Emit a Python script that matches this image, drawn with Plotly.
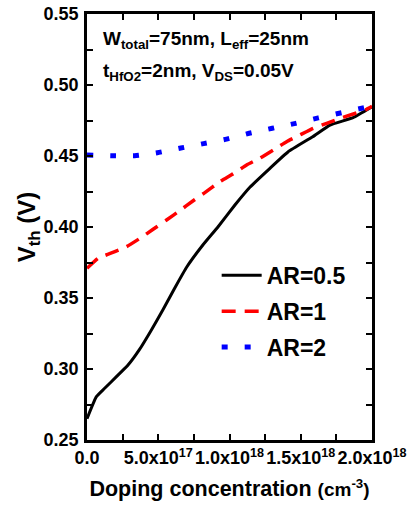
import plotly.graph_objects as go

# Threshold voltage vs. channel doping for three aspect ratios
doping_ar05 = [0, 6.6e16, 1.24e17, 2.065e17, 2.88e17, 3.70e17, 4.52e17, 5.32e17, 6.16e17,
               7.00e17, 8.13e17, 9.2e17, 1.038e18, 1.143e18, 1.28e18, 1.412e18, 1.584e18,
               1.705e18, 1.867e18, 2.0e18]
vth_ar05 = [0.265, 0.2805, 0.2864, 0.2946, 0.3028, 0.314, 0.3275, 0.3415, 0.357,
            0.3718, 0.3873, 0.4002, 0.4155, 0.428, 0.441, 0.453, 0.4636,
            0.4718, 0.477, 0.4847]

doping_ar1 = [0, 7.7e16, 1.95e17, 2.77e17, 3.82e17, 4.64e17, 5.58e17, 6.51e17, 7.45e17,
              8.27e17, 9.32e17, 1.026e18, 1.12e18, 1.213e18, 1.307e18, 1.401e18, 1.494e18,
              1.588e18, 1.682e18, 1.775e18, 1.869e18, 1.962e18, 2.0e18]
vth_ar1 = [0.3709, 0.3779, 0.3826, 0.3861, 0.3927, 0.3984, 0.4049, 0.4115, 0.4185,
           0.4242, 0.4319, 0.4375, 0.4437, 0.4484, 0.4542, 0.4601, 0.4648,
           0.4695, 0.473, 0.4765, 0.4796, 0.4829, 0.485]

doping_ar2 = [0, 1.71e17, 3.35e17, 4.94e17, 6.58e17, 8.18e17, 9.79e17, 1.138e18, 1.30e18,
              1.464e18, 1.623e18, 1.787e18, 1.946e18, 2.0e18]
vth_ar2 = [0.4507, 0.4502, 0.4502, 0.4523, 0.4556, 0.4587, 0.4619, 0.466, 0.4695,
           0.473, 0.4768, 0.4805, 0.484, 0.485]

x_tickvals = [0, 5e17, 1e18, 1.5e18, 2e18]
x_ticktext = ["0.0", "5.0x10<sup>17</sup>", "1.0x10<sup>18</sup>",
              "1.5x10<sup>18</sup>", "2.0x10<sup>18</sup>"]
y_tickvals = [0.25, 0.30, 0.35, 0.40, 0.45, 0.50, 0.55]
y_ticktext = ["0.25", "0.30", "0.35", "0.40", "0.45", "0.50", "0.55"]

FONT = "Liberation Sans"

fig = go.Figure()
fig.add_trace(go.Scatter(x=doping_ar05, y=vth_ar05, mode="lines", name="AR=0.5",
                         legendgroup="a", line_shape="spline",
                         line=dict(color="black", width=3, smoothing=0.4)))
fig.add_trace(go.Scatter(x=doping_ar1, y=vth_ar1, mode="lines", name="AR=1",
                         legendgroup="b", line_shape="spline",
                         line=dict(color="#ff0000", width=3.5, dash="14px,9px",
                                   smoothing=0.4)))
fig.add_trace(go.Scatter(x=doping_ar2, y=vth_ar2, mode="lines", name="AR=2",
                         legendgroup="c", line_shape="spline",
                         line=dict(color="#0000ff", width=5, dash="6px,17px",
                                   smoothing=0.4)))

axis_common = dict(
    showline=True, linecolor="black", linewidth=2.5, mirror="allticks",
    ticks="inside", ticklen=6, tickwidth=2, tickcolor="black",
    showgrid=False, zeroline=False,
    tickfont=dict(family=FONT, size=18, color="black", weight="bold"),
)

fig.update_xaxes(
    range=[0, 2e18], tickmode="array", tickvals=x_tickvals, ticktext=x_ticktext,
    minor=dict(dtick=2.5e17, tick0=0, ticks="inside", ticklen=6, tickwidth=2,
               tickcolor="black", showgrid=False),
    title=dict(text="Doping concentration <span style='font-size:19px'>(cm<sup>-3</sup>)</span>",
               font=dict(family=FONT, size=21.5, color="black", weight="bold"),
               standoff=14),
    **axis_common,
)
fig.update_yaxes(
    range=[0.25, 0.55], tickmode="array", tickvals=y_tickvals, ticktext=y_ticktext,
    minor=dict(dtick=0.025, tick0=0.25, ticks="inside", ticklen=6, tickwidth=2,
               tickcolor="black", showgrid=False),
    title=dict(text="V<sub>th</sub> (V)",
               font=dict(family=FONT, size=24, color="black", weight="bold"),
               standoff=0),
    ticklabelstandoff=2,
    **axis_common,
)

note_font = dict(family=FONT, size=19, color="black", weight="bold")
fig.add_annotation(x=0.05, y=0.94, xref="paper", yref="paper", xanchor="left",
                   yanchor="middle", showarrow=False, font=note_font,
                   text="W<sub>total</sub>=75nm, L<sub>eff</sub>=25nm")
fig.add_annotation(x=0.05, y=0.865, xref="paper", yref="paper", xanchor="left",
                   yanchor="middle", showarrow=False, font=note_font,
                   text="t<sub>HfO2</sub>=2nm, V<sub>DS</sub>=0.05V")

fig.update_layout(
    width=411, height=506,
    margin=dict(l=87, r=39, t=14, b=66, autoexpand=False),
    plot_bgcolor="white", paper_bgcolor="white",
    showlegend=True,
    legend=dict(x=0.455, y=0.437, xanchor="left", yanchor="top",
                bgcolor="rgba(0,0,0,0)", borderwidth=0, tracegroupgap=3,
                itemwidth=40,
                font=dict(family=FONT, size=23, color="black", weight="bold")),
)

fig.write_html("out.html")
